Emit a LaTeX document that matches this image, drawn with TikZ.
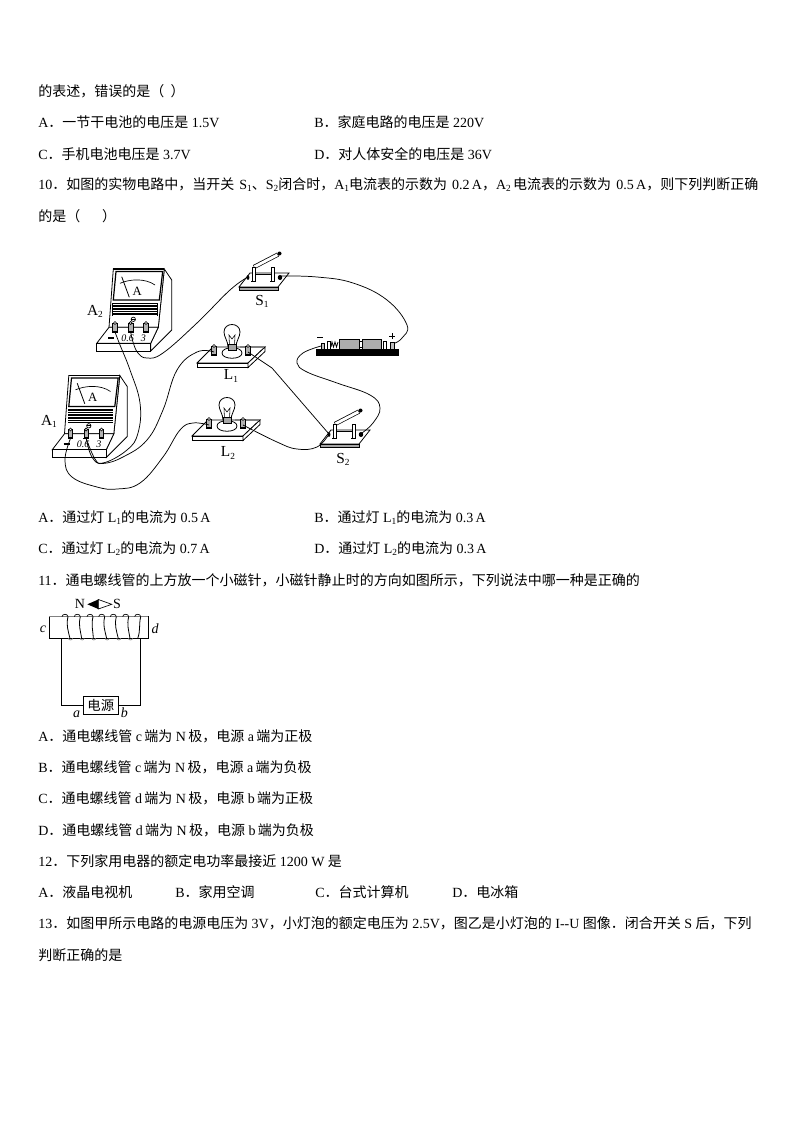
\documentclass[tikz,border=0pt]{standalone}
\usepackage{fontspec}
\setmainfont{Liberation Serif}
\newfontfamily\cjk{Noto Sans CJK SC}
\XeTeXlinebreaklocale "zh"
\XeTeXlinebreakskip=0pt plus 3pt
\newcommand{\zh}[1]{{\cjk #1}}
\newcommand{\sbs}[1]{\raisebox{-0.3ex}{\fontsize{7}{7}\selectfont #1}}
\newcommand{\lineto}[2]{\hbox to #1{#2}}
\tikzset{
  txt/.style={anchor=west,inner sep=0pt,font=\fontsize{10.5}{12}\selectfont},
  lbl/.style={inner sep=0pt,font=\fontsize{10.5}{12}\selectfont},
  wire/.style={line width=0.55pt,black},
  part/.style={line width=0.6pt,draw=black,fill=white},
  postg/.style={line width=0.5pt,draw=black,fill=gray!60},
  ammeter/.pic={
    \draw[part] (164.3,269)--(171.7,280)--(171.7,330)--(150.7,351)--(150.7,343.3)--(158.3,327.3)--cycle;
    \draw[part] (113.3,269)--(164.3,269)--(158.3,327.3)--(109,327.3)--cycle;
    \draw[line width=1pt] (113.3,269)--(164.3,269);
    \draw[part,line width=0.9pt] (116,271.5)--(162.7,271.5)--(159.3,300)--(113.3,300)--cycle;
    \draw[line width=0.5pt] (120,283.3) .. controls (130,279) and (145,278) .. (155,285);
    \draw[line width=0.6pt] (121.7,276.7)--(129.3,297.3);
    \node[lbl,font=\fontsize{9.5}{10}\selectfont] (-face) at (137.3,291) {A};
    \fill (112.3,302.7) rectangle (157.7,316);
    \foreach \yy in {304.8,307.4,310,312.6,315.0} \draw[white,line width=0.7pt] (112.8,\yy)--(157.2,\yy);
    \draw[part] (109,327.3)--(158.3,327.3)--(150.7,343.3)--(96.7,343.3)--cycle;
    \draw[part] (96.7,343.3) rectangle (150.7,351);
    \draw[line width=0.5pt] (133.3,319.3) circle (2.2);
    \draw[line width=0.5pt] (131.3,319.3)--(135.3,319.3);
    \foreach \xx/\nm in {115/neg,130.7/mid,146/pos}{
      \draw[postg] (\xx-2.2,323) rectangle (\xx+2.2,331);
      \fill (\xx-2.8,331) rectangle (\xx+2.8,332.6);
      \draw[postg,fill=white] (\xx,323) circle (1.5);
      \coordinate (-\nm) at (\xx,332);
    }
    \draw[line width=1.3pt] (108,337.7)--(114,337.7);
    \node[lbl,font=\fontsize{7.5}{8}\selectfont\itshape] (-lo) at (127.7,338) {0.6};
    \node[lbl,font=\fontsize{7.5}{8}\selectfont\itshape] (-hi) at (143.3,338) {3};
  },
  bulbset/.pic={
    \draw[part] (213,347)--(265,347)--(248,363)--(197,363)--cycle;
    \draw[part] (197,363) rectangle (248,367.5);
    \draw[part] (248,367.5)--(265,351.5)--(265,347)--(248,363)--cycle;
    \draw[gray,line width=1pt] (240,347)--(264,347);
    \draw[part] (222,353) .. controls (222,346) and (242,346) .. (242,353) .. controls (242,360) and (222,360) .. (222,353);
    \draw[part,line width=0.6pt] (228,347) .. controls (228,341) and (224,337) .. (224,332) .. controls (224,322) and (240,322) .. (240,332) .. controls (240,337) and (236,341) .. (236,347) --cycle;
    \draw[line width=0.4pt] (229.5,346)--(229,335)--(232,339)--(235,335)--(234.5,346);
    \fill[gray!70] (228,344) rectangle (236,350);
    \draw[line width=0.5pt] (228,344) rectangle (236,350);
    \foreach \xx/\nm in {214/left,248/right}{
      \draw[postg] (\xx-2.2,346) rectangle (\xx+2.2,354);
      \fill (\xx-3,353.5) rectangle (\xx+3,355.5);
      \draw[postg,fill=white] (\xx,346) circle (1.5);
      \coordinate (-\nm) at (\xx,352);
    }
  },
  knife/.pic={
    \draw[part] (250,273)--(289,273)--(278,287)--(239,287)--cycle;
    \fill[gray!70] (239,287) rectangle (278,290);
    \draw[line width=0.5pt] (239,287) rectangle (278,290);
    \draw[line width=0.6pt] (255,274)--(273,274);
    \draw[black,line width=3.2pt] (254,267)--(278,254.5);
    \draw[white,line width=2.1pt] (254.5,266.8)--(277.5,254.8);
    \fill (279.5,253.5) circle (2);
    \foreach \xx in {254,273}{
      \draw[part,line width=0.5pt] (\xx-1.8,267.5) rectangle (\xx+1.8,281);
      \fill (\xx-3,281) rectangle (\xx+2,282.3);
    }
    \fill (248,277.5) ellipse (1.4 and 2.4);
    \fill (280,277.5) ellipse (2.2 and 2.6);
    \coordinate (-left) at (248,277);
    \coordinate (-right) at (281,276);
  }
}
\begin{document}
\begin{tikzpicture}[x=0.75pt,y=-0.75pt]
\useasboundingbox (0,0) rectangle (794,1123);
\fill[white] (0,0) rectangle (794,1123);

% text lines
\node[txt] (t01) at (38,91) {\zh{的表述，错误的是（\ \ ）}};
\node[txt] (t02) at (38,122) {A\zh{．一节干电池的电压是} 1.5V};
\node[txt] (t03) at (314,122) {B\zh{．家庭电路的电压是} 220V};
\node[txt] (t04) at (38,154) {C\zh{．手机电池电压是} 3.7V};
\node[txt] (t05) at (314,154) {D\zh{．对人体安全的电压是} 36V};
\node[txt] (t06) at (38,185) {\lineto{540pt}{10\zh{．如图的实物电路中，当开关} S\sbs{1}\zh{、}S\sbs{2}\zh{闭合时，}A\sbs{1}\zh{电流表的示数为} 0.2\,A\zh{，}A\sbs{2}\,\zh{电流表的示数为} 0.5\,A\zh{，则下列判断正确}}};
\node[txt] (t07) at (38,216) {\zh{的是（\ \ \ \ \ \ \ ）}};
\node[txt] (t08) at (38,518) {A\zh{．通过灯} L\sbs{1}\zh{的电流为} 0.5\,A};
\node[txt] (t09) at (314,518) {B\zh{．通过灯} L\sbs{1}\zh{的电流为} 0.3\,A};
\node[txt] (t10) at (38,549) {C\zh{．通过灯} L\sbs{2}\zh{的电流为} 0.7\,A};
\node[txt] (t11) at (314,549) {D\zh{．通过灯} L\sbs{2}\zh{的电流为} 0.3\,A};
\node[txt] (t12) at (38,580) {\lineto{451pt}{11\zh{．通电螺线管的上方放一个小磁针，小磁针静止时的方向如图所示，下列说法中哪一种是正确的}}};
\node[txt] (t13) at (38,736) {A\zh{．通电螺线管} c\,\zh{端为} N\,\zh{极，电源} a\,\zh{端为正极}};
\node[txt] (t14) at (38,767) {B\zh{．通电螺线管} c\,\zh{端为} N\,\zh{极，电源} a\,\zh{端为负极}};
\node[txt] (t15) at (38,798) {C\zh{．通电螺线管} d\,\zh{端为} N\,\zh{极，电源} b\,\zh{端为正极}};
\node[txt] (t16) at (38,830) {D\zh{．通电螺线管} d\,\zh{端为} N\,\zh{极，电源} b\,\zh{端为负极}};
\node[txt] (t17) at (38,861) {12\zh{．下列家用电器的额定电功率最接近} 1200 W \zh{是}};
\node[txt] (t18) at (38,892) {A\zh{．液晶电视机}};
\node[txt] (t19) at (175,892) {B\zh{．家用空调}};
\node[txt] (t20) at (315,892) {C\zh{．台式计算机}};
\node[txt] (t21) at (452,892) {D\zh{．电冰箱}};
\node[txt] (t22) at (38,923) {\lineto{535pt}{13\zh{．如图甲所示电路的电源电压为} 3V\zh{，小灯泡的额定电压为} 2.5V\zh{，图乙是小灯泡的} I-{}-U \zh{图像．闭合开关} S \zh{后，下列}}};
\node[txt] (t23) at (38,955) {\zh{判断正确的是}};

% circuit parts
\pic (a2) at (0,0) {ammeter};
\pic (a1) at (-44.5,106.5) {ammeter};
\pic (l1) at (0,0) {bulbset};
\pic (l2) at (-5,73) {bulbset};
\pic (s1) at (0,0) {knife};
\pic (s2) at (81,157) {knife};

% battery
\fill (316,349) rectangle (399,356);
\draw[postg,fill=gray!65] (339,339) rectangle (359,349);
\draw[postg,fill=gray!65] (362,339) rectangle (381,349);
\draw[part] (359,341.5) rectangle (362,347);
\draw[part] (327,341) rectangle (330,349);
\draw[part] (383,341) rectangle (386,349);
\draw[line width=0.6pt] (331,347)--(332,342)--(333.5,347)--(335,342)--(336.5,347)--(338,342);
\draw[line width=0.6pt,fill=gray!50] (321,343) rectangle (324,349);
\draw[line width=0.6pt,fill=gray!50] (390,342) rectangle (394,349);
\coordinate (batneg) at (321,346);
\coordinate (batpos) at (395,343);
\draw[line width=0.7pt] (317,337)--(323,337);
\draw[line width=0.7pt] (389,336)--(395,336) (392,333)--(392,339);

% wires
\draw[wire] plot[smooth,tension=0.7] coordinates {(a2-mid) (133,342) (138,353) (147,358) (163,353) (197,323) (230,290) (s1-left)};
\draw[wire] plot[smooth,tension=0.7] coordinates {(a2-neg) (120,345) (130,370) (140,403) (138,433) (127,450) (103,463) (92,457) (a1-mid)};
\draw[wire] plot[smooth,tension=0.7] coordinates {(l1-left) (197,352) (177,370) (163,410) (147,440) (123,457) (103,463.5) (95,459) (a1-mid)};
\draw[wire] plot[smooth,tension=0.7] coordinates {(a1-neg) (65,460) (72,477) (97,487) (117,489) (140,483) (163,457) (180,430) (193,423) (l2-left)};
\draw[wire] plot[smooth,tension=0.7] coordinates {(s1-right) (317,277) (353,283) (387,300) (407,325) (402,338) (batpos)};
\draw[wire] plot[smooth,tension=0.7] coordinates {(batneg) (303,353) (297,363) (307,372) (337,383) (370,395) (380,408) (373,423) (s2-right)};
\draw[wire] (l1-right) -- (272,368) -- (s2-left);
\draw[wire] plot[smooth,tension=0.7] coordinates {(l2-right) (277,442) (297,449) (317,447) (s2-left)};

% labels
\node[lbl,font=\fontsize{11.5}{12}\selectfont] (la2) at (95,311) {A\sbs{2}};
\node[lbl,font=\fontsize{11.5}{12}\selectfont] (la1) at (49,421) {A\sbs{1}};
\node[lbl,font=\fontsize{11.5}{12}\selectfont] (ls1) at (262,301) {S\sbs{1}};
\node[lbl,font=\fontsize{11.5}{12}\selectfont] (ll1) at (231,376) {L\sbs{1}};
\node[lbl,font=\fontsize{11.5}{12}\selectfont] (ll2) at (228,453) {L\sbs{2}};
\node[lbl,font=\fontsize{11.5}{12}\selectfont] (ls2) at (343,459) {S\sbs{2}};

% solenoid
\draw[line width=0.5pt] (49,616.7) rectangle (148.3,638.3);
\draw[gray,line width=0.9pt] (49,616.7)--(148.3,616.7);
\foreach \xx/\xe in {65/70,77.3/81.7,90/93.3,101.7/106.7,113.3/118.3,125.7/130,137.7/137.7}{
  \draw[line width=0.5pt] (\xx-3,616.7) .. controls (\xx-3,613.5) and (\xx+3,613.5) .. (\xx+3,616.7);
  \draw[line width=0.6pt] (\xx+3,616.7) .. controls (\xx+1,625) and (\xx+3,630) .. (\xe,638.5);
}
\foreach \xx in {70,81.7,93.3,106.7,118.3,130}{
  \draw[gray,line width=0.5pt] (\xx-1.5,638.3) .. controls (\xx-1.5,640.5) and (\xx+2.5,640.5) .. (\xx+2.5,638.3);
}
\node[draw,line width=0.5pt,fill=white,minimum width=26.2pt,minimum height=13.2pt,inner sep=0pt,font=\fontsize{10}{11}\selectfont] (src) at (100.8,705.5) {\zh{电源}};
\coordinate (cl) at (61,638.3);
\coordinate (cr) at (140.7,638.3);
\draw[line width=0.5pt] (cl) |- (src.west);
\draw[line width=0.5pt] (cr) |- (src.east);
\node[lbl] (nn) at (80,604) {N};
\node[lbl] (ss) at (117,604) {S};
\fill (87.3,604.3)--(98.3,599.5)--(98.3,609)--cycle;
\draw[line width=0.5pt] (98.3,599.5)--(111.7,604.3)--(98.3,609)--cycle;
\node[lbl,font=\fontsize{10.5}{12}\selectfont\itshape] (nc) at (43,629.3) {c};
\node[lbl,font=\fontsize{10.5}{12}\selectfont\itshape] (nd) at (155,629) {d};
\node[lbl,font=\fontsize{10.5}{12}\selectfont\itshape] (na) at (76.7,714) {a};
\node[lbl,font=\fontsize{10.5}{12}\selectfont\itshape] (nb) at (124.3,713) {b};
\end{tikzpicture}
\end{document}
